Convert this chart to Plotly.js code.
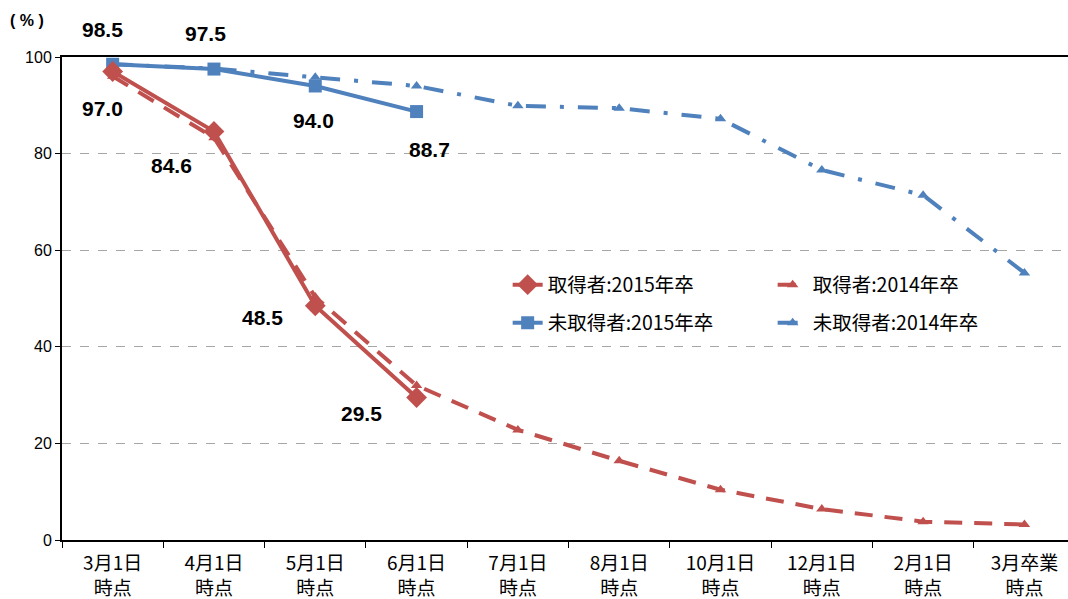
<!DOCTYPE html>
<html>
<head>
<meta charset="utf-8">
<script src="https://cdn.plot.ly/plotly-3.0.1.min.js"></script>
<style>html,body{margin:0;padding:0;background:#fff;}#chart{width:1068px;height:599px;}</style>
</head>
<body>
<div id="chart"></div>
<script>
// category labels: first line / second line
const categories = ['3月1日','4月1日','5月1日','6月1日','7月1日','8月1日','10月1日','12月1日','2月1日','3月卒業'];
const categoryLine2 = ['時点','時点','時点','時点','時点','時点','時点','時点','時点','時点'];
const acquired2015 = [97.0, 84.6, 48.5, 29.5];
const acquired2014 = [96.0, 83.3, 50.3, 32.0, 22.8, 16.4, 10.4, 6.4, 3.8, 3.2];
const notAcquired2015 = [98.5, 97.5, 94.0, 88.7];
const notAcquired2014 = [98.5, 97.6, 95.8, 94.0, 89.9, 89.4, 87.2, 76.6, 71.4, 55.3];
const yTicks = [0, 20, 40, 60, 80, 100];

const RED = '#C0504D', BLUE = '#4F81BD';

const tr2015a = {name:'取得者:2015年卒', x:categories.slice(0, acquired2015.length), y:acquired2015, type:'scatter', mode:'lines+markers',
   line:{color:RED, width:4}, marker:{symbol:'diamond', size:16, color:RED}, cliponaxis:false, legend:'legend', legendrank:1};
const tr2014a = {name:'取得者:2014年卒', x:categories, y:acquired2014, type:'scatter', mode:'lines+markers',
   line:{color:RED, width:4, dash:'18px,12px'}, marker:{symbol:'triangle-up', size:10, color:RED}, cliponaxis:false, legend:'legend', legendrank:2};
const tr2015n = {name:'未取得者:2015年卒', x:categories.slice(0, notAcquired2015.length), y:notAcquired2015, type:'scatter', mode:'lines+markers',
   line:{color:BLUE, width:4}, marker:{symbol:'square', size:13, color:BLUE}, cliponaxis:false, legend:'legend2', legendrank:1};
const tr2014n = {name:'未取得者:2014年卒', x:categories, y:notAcquired2014, type:'scatter', mode:'lines+markers',
   line:{color:BLUE, width:4, dash:'20px,14px,4px,14px'}, marker:{symbol:'triangle-up', size:10, color:BLUE}, cliponaxis:false, legend:'legend2', legendrank:2};
// invisible helper trace so the second-line tick axis has the categories
const helper = {x:categories, y:categories.map(()=>null), xaxis:'x2', type:'scatter', mode:'markers', showlegend:false, hoverinfo:'skip'};
const data = [tr2014a, tr2014n, tr2015n, tr2015a, helper];

const labelFont = {family:'Liberation Sans, Arial, sans-serif', size:21, color:'#000', weight:'bold'};
const blueShifts = [[-10,35],[-8,36],[-2,-35],[13,-38]];
const redShifts = [[-10,-37],[-42,-34],[-53,-12],[-55,-16]];
const annotations = [];
notAcquired2015.forEach((v,i)=>annotations.push({x:categories[i], y:v, xref:'x', yref:'y', text:v.toFixed(1), showarrow:false,
  xshift:blueShifts[i][0], yshift:blueShifts[i][1], font:labelFont}));
acquired2015.forEach((v,i)=>annotations.push({x:categories[i], y:v, xref:'x', yref:'y', text:v.toFixed(1), showarrow:false,
  xshift:redShifts[i][0], yshift:redShifts[i][1], font:labelFont}));
annotations.push({text:'( % )', xref:'paper', yref:'paper', x:-0.035, y:1.076, xanchor:'center', yanchor:'middle', showarrow:false,
  font:{family:'Liberation Sans, Arial', size:16, color:'#000', weight:'bold'}});

const legendFont = {family:'Noto Sans CJK JP, sans-serif', size:19.5, color:'#000'};
const tickFont = {size:19, family:'Noto Sans CJK JP', color:'#000'};
const layout = {
  width:1068, height:599,
  margin:{l:62, r:0, t:57, b:59},
  paper_bgcolor:'#fff', plot_bgcolor:'#fff',
  font:{family:'Noto Sans CJK JP, sans-serif', color:'#000'},
  xaxis:{type:'category', categoryorder:'array', categoryarray:categories, range:[-0.5, 9.43], automargin:false,
    showline:true, linecolor:'#000', linewidth:2, mirror:true, ticks:'outside', ticklen:6, tickcolor:'#000', tickwidth:1,
    tickson:'boundaries', showgrid:false, tickfont:tickFont, ticklabelstandoff:5, zeroline:false},
  xaxis2:{type:'category', categoryorder:'array', categoryarray:categories, range:[-0.5, 9.43], automargin:false,
    overlaying:'x', anchor:'y', side:'bottom', showline:false, ticks:'', showgrid:false, zeroline:false,
    tickvals:categories, ticktext:categoryLine2, tickfont:tickFont, ticklabelstandoff:35},
  yaxis:{range:[0,100], tickvals:yTicks, ticktext:yTicks.map(String), showline:true, linecolor:'#000', linewidth:2, automargin:false,
    ticks:'outside', ticklen:5, tickcolor:'#000', showgrid:true, gridcolor:'#A6A6A6', griddash:'dash', gridwidth:1,
    zeroline:false, tickfont:{size:16, family:'Liberation Sans, Arial', color:'#000'}},
  showlegend:true,
  legend:{orientation:'h', x:0.443, y:0.528, xanchor:'left', yanchor:'middle', entrywidth:220, entrywidthmode:'pixels',
    font:legendFont, bgcolor:'rgba(0,0,0,0)', traceorder:'normal'},
  legend2:{orientation:'h', x:0.443, y:0.449, xanchor:'left', yanchor:'middle', entrywidth:220, entrywidthmode:'pixels',
    font:legendFont, bgcolor:'rgba(0,0,0,0)', traceorder:'normal'},
  annotations:annotations
};
Plotly.newPlot('chart', data, layout, {displayModeBar:false, staticPlot:true});
</script>
</body>
</html>
